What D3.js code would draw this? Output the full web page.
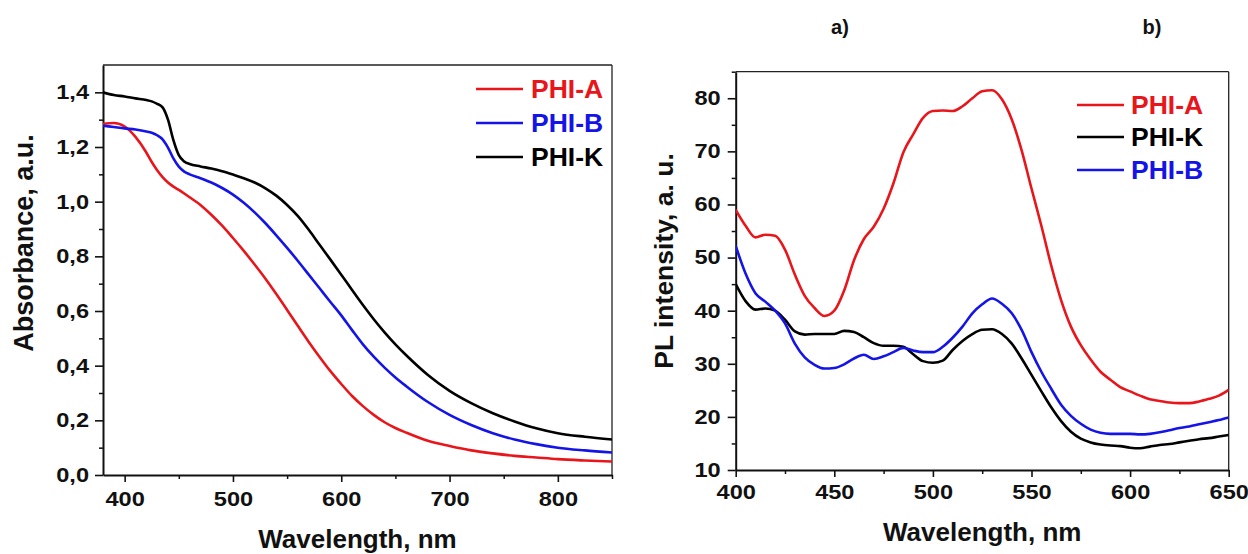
<!DOCTYPE html>
<html><head><meta charset="utf-8">
<script src="https://cdn.jsdelivr.net/npm/d3@7"></script>
<style>
body{margin:0;background:#fff;}
text{font-family:"Liberation Sans",Arial,sans-serif;font-weight:bold;}
</style></head>
<body><svg id="c" width="1248" height="554"></svg>
<script>
// ---------- Panel a: absorbance ----------
const absWavelength = [380,390,400,410,420,425,430,435,440,445,450,455,460,470,480,490,500,510,520,530,540,550,560,570,580,590,600,610,620,630,640,650,660,680,700,720,740,760,780,800,825,850];
const absPHIA = [1.285,1.288,1.275,1.237,1.180,1.145,1.115,1.090,1.070,1.055,1.043,1.030,1.016,0.988,0.952,0.912,0.867,0.820,0.770,0.718,0.662,0.604,0.545,0.487,0.432,0.380,0.333,0.289,0.252,0.220,0.193,0.172,0.155,0.125,0.106,0.090,0.079,0.070,0.064,0.058,0.053,0.049];
const absPHIB = [1.278,1.273,1.268,1.264,1.257,1.252,1.243,1.228,1.198,1.158,1.128,1.110,1.100,1.086,1.070,1.050,1.026,0.996,0.961,0.921,0.877,0.831,0.783,0.733,0.683,0.633,0.584,0.530,0.478,0.433,0.393,0.357,0.325,0.267,0.220,0.183,0.153,0.130,0.113,0.100,0.090,0.082];
const absPHIK = [1.400,1.390,1.385,1.378,1.372,1.367,1.358,1.345,1.300,1.225,1.170,1.147,1.138,1.129,1.121,1.111,1.099,1.086,1.070,1.049,1.022,0.988,0.947,0.897,0.842,0.788,0.733,0.677,0.622,0.570,0.522,0.478,0.438,0.366,0.308,0.263,0.226,0.196,0.171,0.153,0.140,0.130];
const absXTicks = [400,500,600,700,800];
const absYTicks = [0,0.2,0.4,0.6,0.8,1.0,1.2,1.4];
const absSeries = ["PHI-A","PHI-B","PHI-K"];

// ---------- Panel b: PL ----------
const plWavelength = [400,405,410,415,420,425,430,435,440,445,450,455,460,465,470,475,480,485,490,495,500,505,510,515,520,525,530,535,540,545,550,555,560,565,570,575,580,585,590,595,600,605,610,615,620,625,630,635,640,645,650];
const plPHIA = [59.0,56.0,53.8,54.3,54.1,51.5,46.8,42.8,40.5,39.0,40.0,43.8,49.5,53.5,55.8,59.2,64.0,69.8,73.2,76.3,77.6,77.7,77.6,78.5,80.0,81.3,81.5,79.8,76.0,70.2,63.0,56.0,48.5,42.0,37.0,33.5,30.8,28.5,27.0,25.6,24.8,24.0,23.3,23.0,22.7,22.6,22.6,22.9,23.4,24.0,25.1];
const plPHIB = [52.2,47.0,43.3,41.7,40.0,37.6,33.8,31.2,29.8,29.1,29.2,29.9,31.0,31.7,30.9,31.4,32.2,33.0,32.5,32.2,32.2,33.2,34.9,37.0,39.5,41.2,42.3,41.3,39.5,36.4,32.2,28.5,25.3,22.3,20.2,18.7,17.6,17.0,16.8,16.8,16.8,16.7,16.8,17.1,17.5,17.9,18.2,18.6,19.0,19.4,19.9];
const plPHIK = [45.0,41.8,40.2,40.4,40.0,38.3,36.1,35.5,35.6,35.6,35.6,36.2,36.0,35.0,33.9,33.4,33.4,33.2,31.8,30.5,30.2,30.6,32.6,34.3,35.6,36.4,36.5,35.6,33.8,31.0,27.9,24.8,21.8,19.2,17.2,15.9,15.2,14.8,14.6,14.5,14.2,14.1,14.4,14.7,14.9,15.2,15.5,15.8,16.0,16.3,16.6];
const plXTicks = [400,450,500,550,600,650];
const plYTicks = [10,20,30,40,50,60,70,80];
const plSeries = ["PHI-A","PHI-K","PHI-B"];

const colors = {"PHI-A":"#e8161b","PHI-B":"#1414e6","PHI-K":"#000000"};
const STRETCH = 1.18;

const svg = d3.select("#c");

function panel(o){
  const x = d3.scaleLinear().domain(o.xDomain).range([o.left,o.right]);
  const y = d3.scaleLinear().domain(o.yDomain).range([o.bottom,o.top]);
  const g = svg.append("g");
  // frame top & right
  g.append("line").attr("x1",o.left).attr("x2",o.right).attr("y1",o.top).attr("y2",o.top).attr("stroke","#222").attr("stroke-width",1.3);
  g.append("line").attr("x1",o.right).attr("x2",o.right).attr("y1",o.top).attr("y2",o.bottom).attr("stroke","#222").attr("stroke-width",1.3);
  // minor ticks
  g.append("g").attr("transform",`translate(0,${o.bottom})`)
    .call(d3.axisBottom(x).tickValues(o.xMinorVals).tickSize(4).tickFormat(""))
    .call(s=>s.select(".domain").remove())
    .selectAll("line").attr("stroke","#111").attr("stroke-width",1.5);
  g.append("g").attr("transform",`translate(${o.left},0)`)
    .call(d3.axisLeft(y).tickValues(o.yMinorVals).tickSize(4).tickFormat(""))
    .call(s=>s.select(".domain").remove())
    .selectAll("line").attr("stroke","#111").attr("stroke-width",1.5);
  // major axes
  const xa = g.append("g").attr("transform",`translate(0,${o.bottom})`)
    .call(d3.axisBottom(x).tickValues(o.xTicks).tickSize(7).tickPadding(o.xPad).tickSizeOuter(0));
  const ya = g.append("g").attr("transform",`translate(${o.left},0)`)
    .call(d3.axisLeft(y).tickValues(o.yTicks).tickSize(8).tickPadding(o.yPad).tickSizeOuter(0).tickFormat(o.yFmt));
  [xa,ya].forEach(a=>{
    a.select(".domain").attr("stroke","#111").attr("stroke-width",2);
    a.selectAll(".tick line").attr("stroke","#111").attr("stroke-width",1.6);
    a.selectAll(".tick text").attr("font-size",20).attr("font-weight","bold").attr("fill","#111")
      .attr("font-family",'"Liberation Sans",Arial,sans-serif')
      .attr("transform",`scale(${STRETCH},1)`);
  });
  ya.selectAll(".tick text").attr("x",-(8+o.yPad)/STRETCH);
  // lines
  const clipId = "clip"+o.id;
  svg.append("clipPath").attr("id",clipId).append("rect")
    .attr("x",o.left).attr("y",o.top).attr("width",o.right-o.left).attr("height",o.bottom-o.top);
  const line = d3.line().x(d=>x(d[0])).y(d=>y(d[1])).curve(d3.curveMonotoneX);
  o.series.forEach(s=>{
    g.append("path").attr("clip-path",`url(#${clipId})`)
      .datum(o.xs.map((v,i)=>[v,o.data[s][i]]))
      .attr("d",line).attr("fill","none").attr("stroke",colors[s]).attr("stroke-width",2.6)
      .attr("stroke-linejoin","round");
  });
  // legend
  o.series.forEach((s,i)=>{
    const ly = o.legY[i];
    g.append("line").attr("x1",o.legX0).attr("x2",o.legX1).attr("y1",ly).attr("y2",ly)
      .attr("stroke",colors[s]).attr("stroke-width",2.6);
    g.append("text").attr("x",o.legTx).attr("y",ly+9).attr("font-size",26.5).attr("fill",colors[s]).text(s);
  });
  // titles
  g.append("text").attr("x",(o.left+o.right)/2+o.xtOff).attr("y",o.xtY).attr("text-anchor","middle")
    .attr("font-size",26).attr("fill","#111").text(o.xTitle);
  g.append("text").attr("transform",`translate(${o.ytX},${o.ytY}) rotate(-90)`).attr("text-anchor","middle")
    .attr("font-size",o.ytSize).attr("fill","#111").text(o.yTitle);
}

panel({
  id:"a", left:103, right:612, top:65, bottom:475,
  xDomain:[380,850], yDomain:[0,1.5],
  xTicks:absXTicks, yTicks:absYTicks,
  xMinorVals:[450,550,650,750,850], yMinorVals:[0.1,0.3,0.5,0.7,0.9,1.1,1.3],
  xPad:10, yPad:6,
  yFmt:v=>d3.format(".1f")(v).replace(".",","),
  xs:absWavelength, data:{"PHI-A":absPHIA,"PHI-B":absPHIB,"PHI-K":absPHIK},
  series:absSeries,
  legX0:476, legX1:523, legTx:531, legY:[89,123,157],
  xTitle:"Wavelength, nm", xtOff:0, xtY:548,
  yTitle:"Absorbance, a.u.", ytX:33, ytY:243, ytSize:27
});

panel({
  id:"b", left:735.7, right:1228.7, top:71.7, bottom:470,
  xDomain:[400,650], yDomain:[10,85],
  xTicks:plXTicks, yTicks:plYTicks,
  xMinorVals:[425,475,525,575,625], yMinorVals:[15,25,35,45,55,65,75,85],
  xPad:8, yPad:7,
  yFmt:d3.format("d"),
  xs:plWavelength, data:{"PHI-A":plPHIA,"PHI-B":plPHIB,"PHI-K":plPHIK},
  series:plSeries,
  legX0:1077, legX1:1124, legTx:1131, legY:[105,137,170],
  xTitle:"Wavelength, nm", xtOff:0, xtY:541,
  yTitle:"PL intensity, a. u.", ytX:673, ytY:261, ytSize:26.5
});

svg.append("text").attr("x",840).attr("y",34).attr("text-anchor","middle").attr("font-size",20).attr("fill","#111").text("a)");
svg.append("text").attr("x",1152).attr("y",34).attr("text-anchor","middle").attr("font-size",20).attr("fill","#111").text("b)");
</script>
</body></html>
